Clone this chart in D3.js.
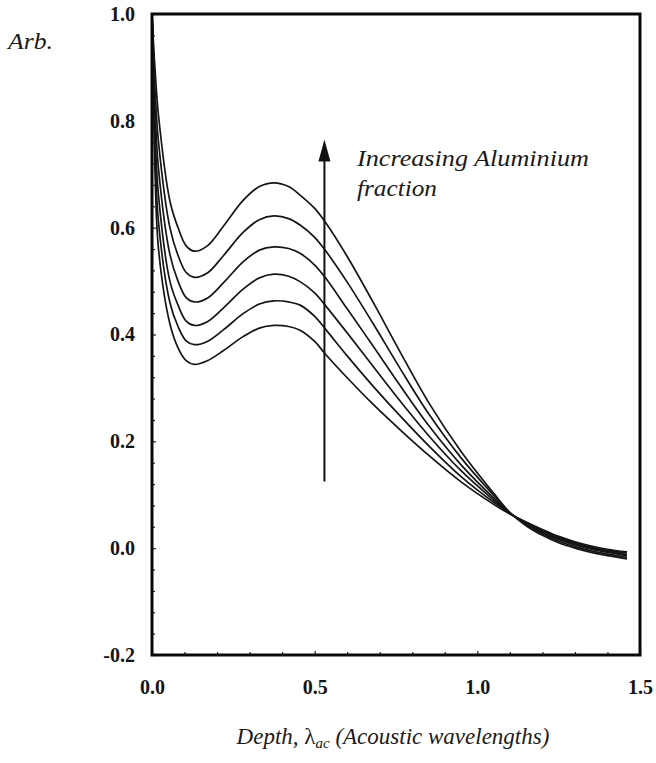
<!DOCTYPE html>
<html>
<head>
<meta charset="utf-8">
<script src="https://cdn.jsdelivr.net/npm/d3@7"></script>
<style>
  html, body { margin: 0; padding: 0; background: #ffffff; }
  svg { display: block; }
</style>
</head>
<body>
<svg id="chart" width="656" height="763"></svg>
<script>
// Depth samples (acoustic wavelengths)
const depth = [0, 0.005, 0.01, 0.02, 0.055, 0.08, 0.105, 0.13, 0.17, 0.22, 0.28, 0.33, 0.375, 0.42, 0.455, 0.5, 0.532, 0.6, 0.68, 0.762, 0.85, 0.95, 1.05, 1.1, 1.15, 1.2, 1.25, 1.3, 1.35, 1.4, 1.46];

// Response curves, lowest to highest aluminium fraction
const alFrac1 = [1.0, 0.84, 0.69, 0.56, 0.42, 0.375, 0.351, 0.344, 0.351, 0.370, 0.396, 0.412, 0.417, 0.415, 0.408, 0.387, 0.364, 0.319, 0.269, 0.222, 0.174, 0.124, 0.082, 0.064, 0.049, 0.035, 0.022, 0.012, 0.004, -0.002, -0.007];
const alFrac2 = [1.0, 0.86, 0.73, 0.61, 0.46, 0.415, 0.388, 0.381, 0.387, 0.409, 0.439, 0.457, 0.463, 0.461, 0.455, 0.434, 0.411, 0.360, 0.303, 0.248, 0.192, 0.134, 0.086, 0.065, 0.048, 0.033, 0.020, 0.010, 0.002, -0.004, -0.009];
const alFrac3 = [1.0, 0.88, 0.77, 0.66, 0.50, 0.455, 0.425, 0.417, 0.424, 0.450, 0.485, 0.506, 0.513, 0.509, 0.499, 0.478, 0.455, 0.403, 0.340, 0.276, 0.211, 0.145, 0.090, 0.065, 0.047, 0.031, 0.018, 0.008, 0.000, -0.006, -0.012];
const alFrac4 = [1.0, 0.90, 0.81, 0.71, 0.55, 0.500, 0.469, 0.461, 0.468, 0.497, 0.536, 0.558, 0.564, 0.561, 0.552, 0.530, 0.507, 0.448, 0.378, 0.305, 0.230, 0.156, 0.094, 0.066, 0.046, 0.029, 0.016, 0.006, -0.002, -0.008, -0.014];
const alFrac5 = [1.0, 0.92, 0.85, 0.76, 0.60, 0.548, 0.516, 0.507, 0.515, 0.548, 0.591, 0.615, 0.622, 0.617, 0.605, 0.582, 0.558, 0.498, 0.420, 0.337, 0.252, 0.169, 0.099, 0.066, 0.044, 0.027, 0.013, 0.003, -0.005, -0.011, -0.017];
const alFrac6 = [1.0, 0.94, 0.89, 0.81, 0.65, 0.600, 0.566, 0.556, 0.566, 0.603, 0.651, 0.677, 0.684, 0.677, 0.661, 0.636, 0.611, 0.546, 0.460, 0.368, 0.273, 0.181, 0.103, 0.067, 0.042, 0.024, 0.010, 0.000, -0.008, -0.014, -0.020];

// Axis ticks
const xMajor = [0.0, 0.5, 1.0, 1.5];
const xMinor = [0.1, 0.2, 0.3, 0.4, 0.6, 0.7, 0.8, 0.9, 1.1, 1.2, 1.3, 1.4];
const yMajor = [-0.2, 0.0, 0.2, 0.4, 0.6, 0.8, 1.0];
const yMinor = [-0.16, -0.12, -0.08, -0.04, 0.04, 0.08, 0.12, 0.16, 0.24, 0.28, 0.32, 0.36, 0.44, 0.48, 0.52, 0.56, 0.64, 0.68, 0.72, 0.76, 0.84, 0.88, 0.92, 0.96];

// Annotation arrow (depth, from value, to value)
const arrowDepth = 0.53;
const arrowFrom = 0.125;
const arrowTo = 0.765;

const series = [alFrac1, alFrac2, alFrac3, alFrac4, alFrac5, alFrac6];

const svg = d3.select("#chart");
const x = d3.scaleLinear().domain([0, 1.5]).range([152, 640]);
const y = d3.scaleLinear().domain([-0.2, 1.0]).range([655, 14]);

const serif = '"Liberation Serif", "DejaVu Serif", serif';
// plain hyphen for negatives, one decimal
const fmt = d => (d < 0 ? "-" : "") + Math.abs(d).toFixed(1);

// Curves
const line = d3.line()
  .x((d, i) => x(depth[i]))
  .y(d => y(d))
  .curve(d3.curveCatmullRom.alpha(0.5));

svg.append("g")
  .selectAll("path")
  .data(series)
  .join("path")
  .attr("d", line)
  .attr("fill", "none")
  .attr("stroke", "#151515")
  .attr("stroke-width", 1.7)
  .attr("stroke-linejoin", "round");

// Axes with inward ticks
const yAxis = svg.append("g").attr("transform", `translate(${x(0)},0)`)
  .call(d3.axisLeft(y).tickValues(yMajor).tickFormat(fmt).tickSize(-4).tickPadding(17));
const yAxisMinor = svg.append("g").attr("transform", `translate(${x(0)},0)`)
  .call(d3.axisLeft(y).tickValues(yMinor).tickFormat("").tickSize(-3));
const xAxis = svg.append("g").attr("transform", `translate(0,${y(-0.2)})`)
  .call(d3.axisBottom(x).tickValues(xMajor).tickFormat(fmt).tickSize(-4).tickPadding(25));
const xAxisMinor = svg.append("g").attr("transform", `translate(0,${y(-0.2)})`)
  .call(d3.axisBottom(x).tickValues(xMinor).tickFormat("").tickSize(-3));

[yAxis, yAxisMinor, xAxis, xAxisMinor].forEach(g => {
  g.select(".domain").remove();
  g.selectAll(".tick line").attr("stroke", "#222").attr("stroke-width", 1.2);
  g.selectAll(".tick text")
    .attr("font-family", serif)
    .attr("font-size", 20)
    .attr("font-weight", "bold")
    .attr("fill", "#141414");
});

// Frame
svg.append("rect")
  .attr("x", x(0)).attr("y", y(1.0))
  .attr("width", x(1.5) - x(0)).attr("height", y(-0.2) - y(1.0))
  .attr("fill", "none").attr("stroke", "#0a0a0a").attr("stroke-width", 3);

// Arrow
svg.append("line")
  .attr("x1", x(arrowDepth)).attr("x2", x(arrowDepth))
  .attr("y1", y(arrowFrom)).attr("y2", y(arrowTo) + 18)
  .attr("stroke", "#111").attr("stroke-width", 2);
svg.append("path")
  .attr("d", `M${x(arrowDepth)},${y(arrowTo)} L${x(arrowDepth) - 6},${y(arrowTo) + 22} L${x(arrowDepth) + 6},${y(arrowTo) + 22} Z`)
  .attr("fill", "#111");

// Annotation text
const note = svg.append("g")
  .attr("font-family", serif).attr("font-style", "italic")
  .attr("font-size", 23).attr("fill", "#1a1a1a");
note.append("text").attr("x", 357).attr("y", 166)
  .attr("textLength", 232).attr("lengthAdjust", "spacingAndGlyphs")
  .text("Increasing Aluminium");
note.append("text").attr("x", 357).attr("y", 196)
  .attr("textLength", 80).attr("lengthAdjust", "spacingAndGlyphs")
  .text("fraction");

// Axis titles
svg.append("text")
  .attr("x", 8).attr("y", 49)
  .attr("font-family", serif).attr("font-style", "italic")
  .attr("font-size", 23).attr("fill", "#1a1a1a")
  .attr("textLength", 45).attr("lengthAdjust", "spacingAndGlyphs")
  .text("Arb.");

const xt = svg.append("text")
  .attr("x", 393).attr("y", 744)
  .attr("text-anchor", "middle")
  .attr("font-family", serif).attr("font-style", "italic")
  .attr("font-size", 23).attr("fill", "#1a1a1a");
xt.append("tspan").text("Depth, ");
xt.append("tspan").attr("font-style", "normal").text("λ");
xt.append("tspan").attr("font-size", 15).attr("dy", 4).text("ac");
xt.append("tspan").attr("dy", -4).text(" (Acoustic wavelengths)");
</script>
</body>
</html>
